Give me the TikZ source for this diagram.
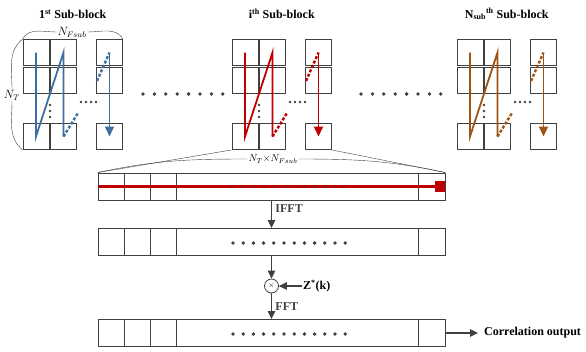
\documentclass[tikz,border=0pt]{standalone}
\usepackage{fontspec}
\setmainfont{Liberation Serif}
\usetikzlibrary{arrows.meta, positioning}
\definecolor{myblue}{RGB}{62, 111, 163}
\definecolor{myred}{RGB}{192, 0, 0}
\definecolor{mybrown}{RGB}{158, 84, 20}
\definecolor{mygray}{RGB}{64, 64, 64}

\begin{document}
\begin{tikzpicture}[x=1pt,y=-1pt,
    cell/.style={draw=mygray,minimum size=26pt,inner sep=0pt,line width=0.9pt},
    bar/.style={draw=mygray,minimum width=347pt,minimum height=27pt,
                inner sep=0pt,line width=0.9pt},
    ttl/.style={font=\bfseries\fontsize{12}{14}\selectfont},
    lbl/.style={font=\bfseries\fontsize{12}{14}\selectfont},
    dot/.style={circle,fill=mygray,inner sep=0pt,minimum size=#1},
    dot/.default=3.8pt,
    arr/.style={-{Triangle[length=8pt,width=7.5pt]},line width=1.3pt,mygray}]
  \useasboundingbox (0,0) rectangle (586,351);
  % sub-blocks
  \foreach \k/\xo/\col/\ttltext in {a/0/myblue/1\textsuperscript{st} Sub-block,
      b/209/myred/i\textsuperscript{th} Sub-block,
      c/434/mybrown/N\textsubscript{sub}\textsuperscript{th} Sub-block}{
    \node[ttl] (\k t) at (72.75+\xo,14) {\ttltext};
    \foreach \r/\y in {1/52.5,2/80,3/136.5}
      \foreach \c/\x in {1/36,2/63.5,3/109.5}
        \node[cell] (\k\r\c) at (\x+\xo,\y) {};
    \coordinate (\k d1) at (78+\xo,113);
    \coordinate (\k d2) at (97+\xo,81);
    \draw[\col,line width=1.8pt] (\k11.center) -- (\k31.center)
      -- (\k12.center) -- (\k32.center);
    \draw[\col,line width=2.4pt,dash pattern=on 3pt off 1.8pt] (\k32.center) -- (\k d1);
    \draw[\col,line width=2.4pt,dash pattern=on 3pt off 1.8pt] (\k d2) -- (\k13.center);
    \draw[\col,line width=1.8pt,-{Triangle[length=10pt,width=9pt]}]
      (\k13.center) -- (\k33.center);
    \foreach \y in {105,111,117}
      \node[dot=2.6pt] (\k v\y) at (50+\xo,\y) {};
    \foreach \x in {81,86,91,96}
      \node[dot=2.6pt] (\k h\x) at (\x+\xo,102) {};
  }
  % dots between sub-blocks
  \foreach \i in {0,...,7}{
    \node[dot] (p\i) at (143+11.4*\i,94) {};
    \node[dot] (q\i) at (361+11.4*\i,94) {};
  }
  % braces of the first sub-block
  \node[font=\fontsize{11.5}{13}\selectfont,inner sep=1pt] (nf) at (72,32) {$N_{Fsub}$};
  \node[font=\fontsize{11.5}{13}\selectfont,inner sep=1pt] (nt) at (12,95) {$N_T$};
  \draw[mygray] (a11.north west) to[out=60,in=180] (nf.west);
  \draw[mygray] (nf.east) to[out=0,in=120] (a13.north east);
  \draw[mygray] (a11.north west) to[out=220,in=90] (nt.north);
  \draw[mygray] (nt.south) to[out=-90,in=140] (a31.south west);
  % bars
  \node[bar] (bar1) at (271.5,186.5) {};
  \node[bar] (bar2) at (271.5,242) {};
  \node[bar] (bar3) at (271.5,333) {};
  \foreach \b in {bar1,bar2,bar3}
    \foreach \s in {27,53,79,321}
      \draw[mygray,line width=0.9pt] ([xshift=\s pt]\b.north west)
        -- ([xshift=\s pt]\b.south west);
  \node[fill=myred,minimum size=10.5pt,inner sep=0pt,anchor=east] (redsq) at (bar1.east) {};
  \draw[myred,line width=2.8pt] (bar1.west) -- (redsq.west);
  \foreach \i in {0,...,11}{
    \node[dot=2pt] (r\i) at (233+10.2*\i,187) {};
    \node[dot] (s\i) at (233+10.2*\i,243) {};
    \node[dot] (u\i) at (233+10.2*\i,334) {};
  }
  % zoom of the i-th sub-block
  \node[font=\fontsize{10}{12}\selectfont,inner sep=1pt] (ntf) at (273,159)
    {$N_T{\times}N_{Fsub}$};
  \draw[mygray] (b31.south west) -- (bar1.north west);
  \draw[mygray] (b33.south east) -- (bar1.north east);
  \draw[mygray] (bar1.north west) to[out=12,in=180] (ntf.west);
  \draw[mygray] (ntf.east) to[out=0,in=168] (bar1.north east);
  % processing
  \node[circle,draw=mygray,line width=0.8pt,minimum size=14pt,inner sep=0pt,font=\scriptsize] (mul) at (271.5,286) {$\times$};
  \node[lbl,anchor=west,inner sep=1pt] (zk) at (302,286) {Z\textsuperscript{*}(k)};
  \node[lbl,anchor=west,inner xsep=6pt,inner ysep=2pt] (out) at (478,333) {Correlation output};
  \draw[arr] (bar1) -- (bar2) node[pos=0.3,right,lbl] {IFFT};
  \draw[arr] (bar2) -- (mul);
  \draw[arr] (mul) -- (bar3) node[midway,right,lbl] {FFT};
  \draw[arr] (zk) -- (mul);
  \draw[arr] (bar3) -- (out);
\end{tikzpicture}
\end{document}
